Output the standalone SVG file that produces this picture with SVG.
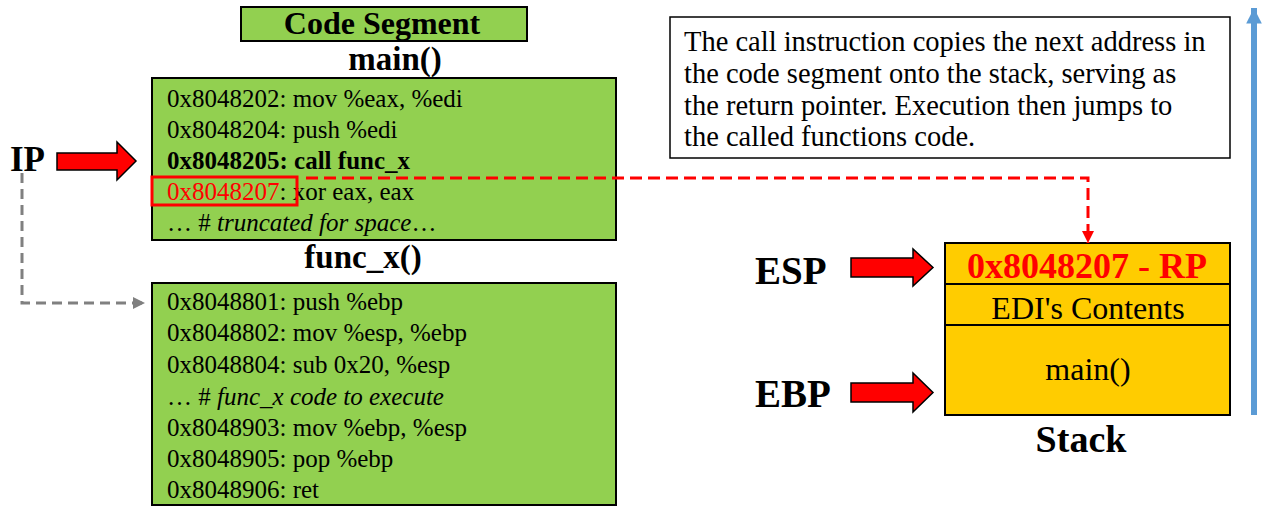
<svg xmlns="http://www.w3.org/2000/svg" width="1262" height="506" viewBox="0 0 1262 506">
  <style>
    text { font-family: "Liberation Serif", "Times New Roman", Tinos, Times, "Nimbus Roman", FreeSerif, "DejaVu Serif", serif; fill: #000; }
    .code { font-size: 25px; }
    .bold { font-weight: bold; }
    .ital { font-style: italic; }
    .label { font-weight: bold; }
    .alert { fill: #FF0000; }
    .green { fill: #92D050; stroke: #000; stroke-width: 2; }
    .gold { fill: #FFCC00; stroke: #000; stroke-width: 2; }
    .block { fill: #FF0000; stroke: #000; stroke-width: 1.5; stroke-linejoin: miter; }
  </style>
  <defs>
    <marker id="redHead" viewBox="0 0 10 10" refX="10" refY="5" markerWidth="4" markerHeight="4" orient="auto" markerUnits="strokeWidth">
      <path d="M0,0 L10,5 L0,10 Z" fill="#FF0000"/>
    </marker>
    <marker id="grayHead" viewBox="0 0 10 10" refX="10" refY="5" markerWidth="4" markerHeight="4" orient="auto" markerUnits="strokeWidth">
      <path d="M0,0 L10,5 L0,10 Z" fill="#808080"/>
    </marker>
    <marker id="blueHead" viewBox="0 0 10 10" refX="10" refY="5" markerWidth="2.6" markerHeight="2.6" orient="auto" markerUnits="strokeWidth">
      <path d="M0,0 L10,5 L0,10 Z" fill="#5B9BD5"/>
    </marker>
  </defs>

  <rect width="1262" height="506" fill="#FFFFFF"/>

  <!-- code segment header -->
  <g id="code-segment-title">
    <rect class="green" x="241" y="7" width="286" height="34"/>
    <text class="label" x="382" y="34" font-size="32" text-anchor="middle">Code Segment</text>
  </g>

  <!-- main() listing -->
  <g id="main-code">
    <text class="label" x="395" y="70" font-size="33" text-anchor="middle">main()</text>
    <rect class="green" x="152" y="78" width="464" height="162"/>
    <text class="code" x="167" y="107">0x8048202: mov %eax, %edi</text>
    <text class="code" x="167" y="138">0x8048204: push %edi</text>
    <text class="code bold" x="167" y="169">0x8048205: call func_x</text>
    <text class="code" x="167" y="200"><tspan class="alert">0x8048207</tspan>: xor eax, eax</text>
    <text class="code" x="167" y="231">… # <tspan class="ital">truncated for space</tspan>…</text>
    <rect x="152" y="177" width="145" height="28" fill="none" stroke="#FF0000" stroke-width="3"/>
  </g>

  <!-- func_x() listing -->
  <g id="func-x-code">
    <text class="label" x="363" y="268" font-size="33" text-anchor="middle">func_x()</text>
    <rect class="green" x="152" y="283" width="464" height="222"/>
    <text class="code" x="167" y="310">0x8048801: push %ebp</text>
    <text class="code" x="167" y="341">0x8048802: mov %esp, %ebp</text>
    <text class="code" x="167" y="373">0x8048804: sub 0x20, %esp</text>
    <text class="code" x="167" y="405">… # <tspan class="ital">func_x code to execute</tspan></text>
    <text class="code" x="167" y="436">0x8048903: mov %ebp, %esp</text>
    <text class="code" x="167" y="467">0x8048905: pop %ebp</text>
    <text class="code" x="167" y="498">0x8048906: ret</text>
  </g>

  <!-- instruction pointer -->
  <g id="ip">
    <text class="label" x="10" y="171" font-size="35">IP</text>
    <polygon class="block" points="57,153 117,153 117,142 136,161 117,180 117,170 57,170"/>
  </g>

  <!-- explanation note -->
  <g id="note">
    <rect x="670" y="17" width="560" height="141" fill="#FFFFFF" stroke="#000" stroke-width="1.5"/>
    <text font-size="28.5">
      <tspan x="684" y="51">The call instruction copies the next address in</tspan>
      <tspan x="684" y="83">the code segment onto the stack, serving as</tspan>
      <tspan x="684" y="115">the return pointer. Execution then jumps to</tspan>
      <tspan x="684" y="146">the called functions code.</tspan>
    </text>
  </g>

  <!-- stack frame -->
  <g id="stack">
    <rect class="gold" x="945" y="243" width="285" height="41"/>
    <rect class="gold" x="945" y="284" width="285" height="41"/>
    <rect class="gold" x="945" y="325" width="285" height="90"/>
    <text class="label alert" x="1087" y="278" font-size="36" text-anchor="middle">0x8048207 - RP</text>
    <text x="1088" y="319" font-size="32" text-anchor="middle">EDI's Contents</text>
    <text x="1088" y="380" font-size="32" text-anchor="middle">main()</text>
    <text class="label" x="1081" y="452" font-size="38" text-anchor="middle">Stack</text>
  </g>

  <!-- stack pointer -->
  <g id="esp">
    <text class="label" x="755" y="284" font-size="39">ESP</text>
    <polygon class="block" points="851,258 913,258 913,249 933,267.5 913,286 913,277 851,277"/>
  </g>

  <!-- base pointer -->
  <g id="ebp">
    <text class="label" x="755" y="407" font-size="39">EBP</text>
    <polygon class="block" points="851,383 913,383 913,373 933,392.5 913,412 913,402 851,402"/>
  </g>

  <!-- connectors -->
  <g id="connectors" fill="none">
    <path d="M306,178 H1088 V243" stroke="#FF0000" stroke-width="3" stroke-dasharray="12,6" marker-end="url(#redHead)"/>
    <path d="M22,173 V303 H145" stroke="#808080" stroke-width="3" stroke-dasharray="10,6" marker-end="url(#grayHead)"/>
    <path d="M1254,415 V8" stroke="#5B9BD5" stroke-width="6" marker-end="url(#blueHead)"/>
  </g>
</svg>
